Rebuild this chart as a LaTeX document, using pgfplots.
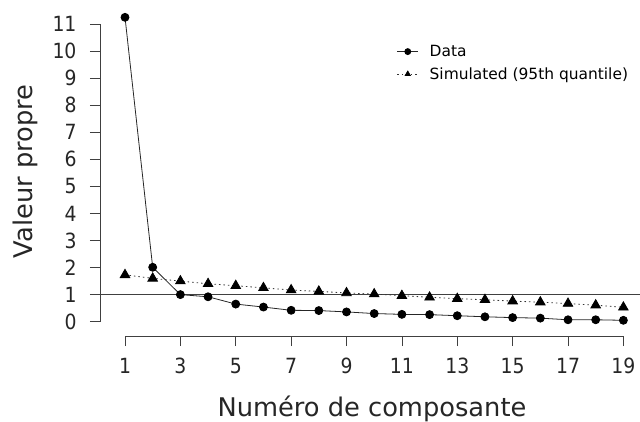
\documentclass[border=0pt]{standalone}
\usepackage{fontspec}
\setmainfont{DejaVu Sans}
\newfontfamily\condfont{DejaVu Sans Condensed}
\usepackage{pgfplots}
\pgfplotsset{compat=1.18}

\begin{document}
\begin{tikzpicture}
\useasboundingbox (-100bp,-86bp) rectangle (540bp,336bp);
\begin{axis}[
    at={(0,0)}, anchor=south west,
    scale only axis, width=540bp, height=331.4bp,
    xmin=0.097, xmax=19.60, ymin=-0.53, ymax=11.72,
    axis x line*=bottom, axis y line*=left,
    axis line style={draw=none},
    clip=false,
    tick align=outside, major tick length=10bp,
    tick style={black!75, line width=0.7bp},
    xtick={1,3,...,19}, ytick={0,1,...,11},
    /pgf/number format/assume math mode=true,
    ticklabel style={font=\condfont\fontsize{21}{24}\selectfont, text=black!85},
    xticklabel style={anchor=base, yshift=-27bp},
    yticklabel style={anchor=east, xshift=-10bp},
    xlabel={Numéro de composante},
    ylabel={Valeur propre},
    label style={font=\fontsize{25.8}{28}\selectfont, text=black!85},
    xlabel style={at={(axis description cs:0.5037,-0.2444)}, anchor=base},
    ylabel style={at={(axis description cs:-0.139,0.497)}, anchor=center},
    legend style={draw=none, fill=none, at={(axis description cs:0.5494,0.878)},
        anchor=north west, font=\fontsize{15.5}{17}\selectfont,
        inner sep=0pt, nodes={inner sep=0pt}, row sep=9.5bp},
    legend cell align=left,
    legend image code/.code={
        \draw[mark repeat=2, mark phase=2, #1, mark size=3bp]
            plot coordinates {(0bp,0bp) (10.5bp,0bp) (21bp,0bp)};
        \path (32bp,0bp);},
]
% axis lines, R style: first to last tick only
\draw[black!75, line width=0.7bp] (axis cs:1,-0.53) -- (axis cs:19,-0.53);
\draw[black!75, line width=0.7bp] (axis cs:0.097,0) -- (axis cs:0.097,11);

% Kaiser line
\addplot[forget plot, black!75, line width=0.8bp] coordinates {(0.097,1) (19.60,1)};

% observed eigenvalues
\addplot[black!85, line width=0.8bp, mark=*, mark size=4bp,
    mark options={black, solid}] coordinates {
    (1,11.25) (2,2.01) (3,1.00) (4,0.92) (5,0.65) (6,0.54) (7,0.42)
    (8,0.41) (9,0.36) (10,0.30) (11,0.27) (12,0.26) (13,0.22) (14,0.18)
    (15,0.15) (16,0.13) (17,0.07) (18,0.07) (19,0.05)
};
\addlegendentry{Data}

% parallel analysis, 95th quantile
\addplot[black!80, line width=0.8bp, dash pattern=on 1.5bp off 3bp,
    mark=triangle*, mark size=5.5bp, mark options={black, solid}] coordinates {
    (1,1.73) (2,1.60) (3,1.50) (4,1.40) (5,1.33) (6,1.25) (7,1.17)
    (8,1.12) (9,1.06) (10,1.02) (11,0.96) (12,0.90) (13,0.85) (14,0.81)
    (15,0.76) (16,0.72) (17,0.67) (18,0.61) (19,0.53)
};
\addlegendentry{Simulated (95th quantile)}

\end{axis}
\end{tikzpicture}
\end{document}
